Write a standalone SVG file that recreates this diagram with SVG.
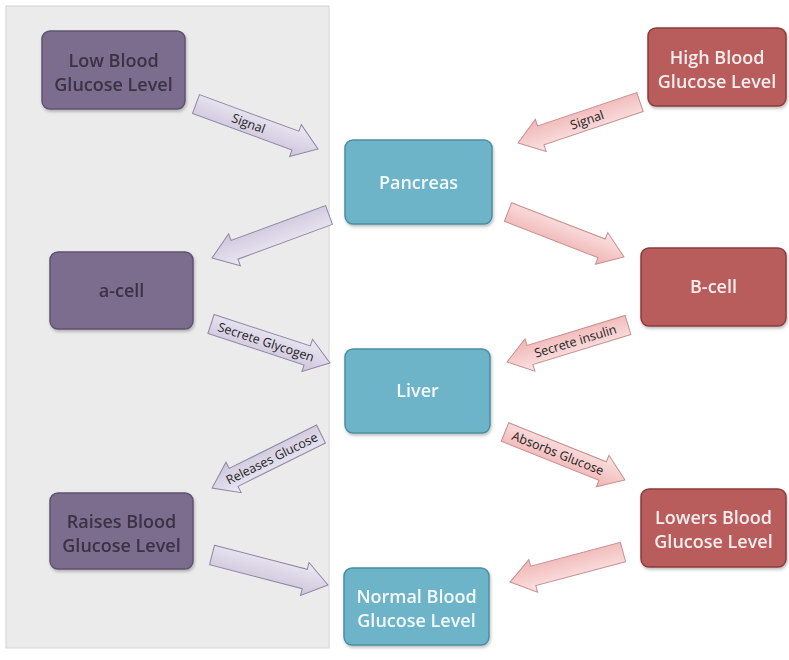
<svg xmlns="http://www.w3.org/2000/svg" width="789" height="660" viewBox="0 0 789 660">
<style>
  .node text{font-family:"Open Sans",Lato,"Liberation Sans",sans-serif;font-size:18px;font-weight:600;text-anchor:middle}
  .purple rect{fill:#7b6c8e;stroke:#5f5272;stroke-width:1.5}
  .purple text{fill:#3a3145}
  .red rect{fill:#b95b5b;stroke:#8c3d3d;stroke-width:1.5}
  .red text{fill:#f6eeee}
  .teal rect{fill:#6db4c9;stroke:#4a8ea3;stroke-width:1.5}
  .teal text{fill:#f4fafc}
  .pa{fill:url(#gp);stroke:#8e86a2;stroke-width:1}
  .ra{fill:url(#gr);stroke:#c98e8e;stroke-width:1}
  .lbl{font-family:"Open Sans",Lato,"Liberation Sans",sans-serif;font-size:12.5px;fill:#222;text-anchor:middle}
</style>
<defs>
  <linearGradient id="gp" x1="0" y1="0" x2="0" y2="1">
    <stop offset="0" stop-color="#ece9f3"/>
    <stop offset="1" stop-color="#cdc5dc"/>
  </linearGradient>
  <linearGradient id="gr" x1="0" y1="0" x2="0" y2="1">
    <stop offset="0" stop-color="#fce4e4"/>
    <stop offset="1" stop-color="#efb3b3"/>
  </linearGradient>
  <filter id="sh" x="-10%" y="-10%" width="125%" height="130%">
    <feDropShadow dx="1" dy="2" stdDeviation="1.5" flood-color="#000" flood-opacity="0.25"/>
  </filter>
</defs>
<rect width="789" height="660" fill="#ffffff"/>
<rect id="panel" x="6" y="6" width="323" height="642" fill="#ebebeb" stroke="#d4d4d4" stroke-width="1"/>

<g id="connectors">
  <g transform="translate(196,104) rotate(20.2)">
    <path class="pa" d="M0,-10 H106 V-17 L130,0 L106,17 V10 H0 Z"/>
    <text class="lbl" x="56" y="4.5">Signal</text>
  </g>
  <g transform="translate(640,102) rotate(161.4)">
    <path class="ra" d="M0,-10 H104.7 V-17 L128.7,0 L104.7,17 V10 H0 Z"/>
    <text class="lbl" transform="translate(56,0) rotate(180)" y="4.5">Signal</text>
  </g>
  <g transform="translate(329,215) rotate(159.8)">
    <path class="pa" d="M0,-10 H100.7 V-17 L124.7,0 L100.7,17 V10 H0 Z"/>
  </g>
  <g transform="translate(508,212) rotate(21.2)">
    <path class="ra" d="M0,-10 H100.4 V-17 L124.4,0 L100.4,17 V10 H0 Z"/>
  </g>
  <g transform="translate(211,324) rotate(18.1)">
    <path class="pa" d="M0,-10 H101.2 V-17 L125.2,0 L101.2,17 V10 H0 Z"/>
    <text class="lbl" x="58" y="4.5">Secrete Glycogen</text>
  </g>
  <g transform="translate(628,325) rotate(163)">
    <path class="ra" d="M0,-10 H102.5 V-17 L126.5,0 L102.5,17 V10 H0 Z"/>
    <text class="lbl" transform="translate(55,0) rotate(180)" y="4.5">Secrete insulin</text>
  </g>
  <g transform="translate(321,434) rotate(153.6)">
    <path class="pa" d="M0,-10 H97.6 V-17 L121.6,0 L97.6,17 V10 H0 Z"/>
    <text class="lbl" transform="translate(55,0) rotate(180)" y="4.5">Releases Glucose</text>
  </g>
  <g transform="translate(505,432) rotate(21.8)">
    <path class="ra" d="M0,-10 H105.2 V-17 L129.2,0 L105.2,17 V10 H0 Z"/>
    <text class="lbl" x="57" y="4.5">Absorbs Glucose</text>
  </g>
  <g transform="translate(212,555) rotate(14.5)">
    <path class="pa" d="M0,-10 H95.8 V-17 L119.8,0 L95.8,17 V10 H0 Z"/>
  </g>
  <g transform="translate(623,552) rotate(165.1)">
    <path class="ra" d="M0,-10 H92.9 V-17 L116.9,0 L92.9,17 V10 H0 Z"/>
  </g>
</g>

<g id="low" class="node purple" filter="url(#sh)">
  <rect x="42" y="31" width="143" height="78" rx="8"/>
  <text x="113.5" y="66.5">Low Blood</text>
  <text x="113.5" y="90.5">Glucose Level</text>
</g>
<g id="high" class="node red" filter="url(#sh)">
  <rect x="648" y="28" width="138" height="78" rx="8"/>
  <text x="717" y="63.5">High Blood</text>
  <text x="717" y="87.5">Glucose Level</text>
</g>
<g id="pancreas" class="node teal" filter="url(#sh)">
  <rect x="345" y="140" width="147" height="84" rx="8"/>
  <text x="418.5" y="189">Pancreas</text>
</g>
<g id="acell" class="node purple" filter="url(#sh)">
  <rect x="50" y="252" width="143" height="77" rx="8"/>
  <text x="121.5" y="297">a-cell</text>
</g>
<g id="bcell" class="node red" filter="url(#sh)">
  <rect x="641" y="248" width="145" height="78" rx="8"/>
  <text x="713.5" y="293">B-cell</text>
</g>
<g id="liver" class="node teal" filter="url(#sh)">
  <rect x="345" y="349" width="145" height="84" rx="8"/>
  <text x="417.5" y="397">Liver</text>
</g>
<g id="raises" class="node purple" filter="url(#sh)">
  <rect x="50" y="493" width="143" height="76" rx="8"/>
  <text x="121.5" y="527.5">Raises Blood</text>
  <text x="121.5" y="551.5">Glucose Level</text>
</g>
<g id="lowers" class="node red" filter="url(#sh)">
  <rect x="641" y="489" width="145" height="78" rx="8"/>
  <text x="713.5" y="523.5">Lowers Blood</text>
  <text x="713.5" y="547.5">Glucose Level</text>
</g>
<g id="normal" class="node teal" filter="url(#sh)">
  <rect x="344" y="568" width="145" height="77" rx="8"/>
  <text x="416.5" y="603">Normal Blood</text>
  <text x="416.5" y="627">Glucose Level</text>
</g>
</svg>
